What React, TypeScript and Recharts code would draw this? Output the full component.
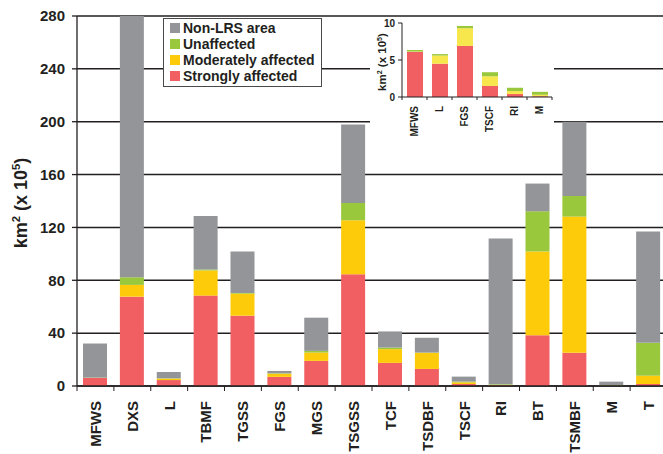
import { BarChart, Bar, XAxis, YAxis, CartesianGrid, Legend, Label } from 'recharts';

const categories = ['MFWS', 'DXS', 'L', 'TBMF', 'TGSS', 'FGS', 'MGS', 'TSGSS', 'TCF', 'TSDBF', 'TSCF', 'RI', 'BT', 'TSMBF', 'M', 'T'];
const strongly = [6.1, 67.6, 4.5, 68.4, 53.2, 6.9, 19.0, 84.6, 17.5, 12.9, 1.5, 0.4, 38.5, 25.1, 0.1, 1.5];
const moderately = [0.05, 8.9, 1.1, 19.0, 16.7, 2.4, 6.3, 40.8, 10.4, 12.2, 1.3, 0.4, 63.3, 103.1, 0.2, 6.3];
const unaffected = [0.2, 5.8, 0.2, 0.8, 0.5, 0.3, 1.3, 13.1, 1.2, 0.2, 0.55, 0.45, 30.4, 15.6, 0.4, 24.9];
const nonLrs = [25.8, 215, 4.8, 40.4, 31.4, 1.8, 25.1, 59.3, 12.2, 11.2, 3.75, 110.4, 21, 56.2, 2.6, 84.3];
const yTicks = [0, 40, 80, 120, 160, 200, 240, 280];

// small categories shown again in the inset
const insetCategories = ['MFWS', 'L', 'FGS', 'TSCF', 'RI', 'M'];
const insetTicks = [0, 5, 10];

const FONT = '"Liberation Sans", Arial, Helvetica, sans-serif';
const INK = '#231f20';
const GRAY = '#939598';
const GREEN = '#9ac83c';
const YELLOW = '#fecb0a';
const INSET_YELLOW = '#f7e64c';
const RED = '#f15f62';

const data = categories.map((name, i) => ({
  name,
  strongly: strongly[i],
  moderately: moderately[i],
  unaffected: unaffected[i],
  nonLrs: nonLrs[i],
}));

const insetData = insetCategories.map(name => {
  const i = categories.indexOf(name);
  return { name, strongly: strongly[i], moderately: moderately[i], unaffected: unaffected[i] };
});

const CHART_W = 670;
const CHART_H = 454;
const Y_W = 77;
const MAIN_PLOT_W = CHART_W - Y_W - 3;

function makeXTick(fontSize: number, margin: number, tick: number, bandHalf: number, count: number) {
  return (props: any) => {
    const { x, y, payload, index } = props;
    const half = payload && payload.offset ? payload.offset : bandHalf;
    const axisY = y - margin;
    return (
      <g>
        <line x1={x - half} x2={x - half} y1={axisY} y2={axisY + tick} stroke={INK} strokeWidth={1} />
        {index === count - 1 && (
          <line x1={x + half} x2={x + half} y1={axisY} y2={axisY + tick} stroke={INK} strokeWidth={1} />
        )}
        <text
          x={x}
          y={y}
          dy="0.36em"
          transform={`rotate(-90, ${x}, ${y})`}
          textAnchor="end"
          fontSize={fontSize}
          fontWeight="bold"
          fontFamily={FONT}
          fill={INK}
        >
          {payload.value}
        </text>
      </g>
    );
  };
}

const MainXTick = makeXTick(15, 15, 5, MAIN_PLOT_W / categories.length / 2, categories.length);
const InsetXTick = makeXTick(10, 9, 3, 150 / insetCategories.length / 2, insetCategories.length);

function yLabel(fontSize: number, dx: number, sup: number) {
  return (props: any) => {
    const vb = props.viewBox || { x: 0, y: 0, width: 0, height: 0 };
    const x = vb.x + dx;
    const y = vb.y + vb.height / 2 + 2;
    return (
      <text
        x={x}
        y={y}
        transform={`rotate(-90, ${x}, ${y})`}
        textAnchor="middle"
        fontSize={fontSize}
        fontWeight="bold"
        fontFamily={FONT}
        fill={INK}
      >
        <tspan>km</tspan>
        <tspan dy={-sup} fontSize={fontSize * 0.62}>2</tspan>
        <tspan dy={sup}> (x 10</tspan>
        <tspan dy={-sup} fontSize={fontSize * 0.62}>5</tspan>
        <tspan dy={sup}>)</tspan>
      </text>
    );
  };
}

const legendItems = [
  { label: 'Non-LRS area', color: GRAY },
  { label: 'Unaffected', color: GREEN },
  { label: 'Moderately affected', color: YELLOW },
  { label: 'Strongly affected', color: RED },
];

function LegendBox() {
  return (
    <div
      style={{
        border: '1px solid #4a4a4a',
        background: '#fff',
        padding: '1px 6px 2px 6px',
        fontFamily: FONT,
        fontWeight: 'bold',
        fontSize: 14,
        color: INK,
        lineHeight: '16px',
        boxSizing: 'border-box',
      }}
    >
      {legendItems.map(item => (
        <div key={item.label} style={{ display: 'flex', alignItems: 'center', whiteSpace: 'nowrap' }}>
          <span style={{ width: 10, height: 10, background: item.color, marginRight: 3, display: 'inline-block' }} />
          {item.label}
        </div>
      ))}
    </div>
  );
}

function Inset() {
  return (
    <div style={{ position: 'absolute', left: 370, top: 18, width: 184, height: 118, background: '#fff' }}>
      <BarChart width={184} height={118} data={insetData} margin={{ top: 5, right: 2, left: 0, bottom: 0 }} barSize={16}>
        <XAxis
          dataKey="name"
          interval={0}
          height={39}
          tickLine={false}
          tickSize={0}
          tickMargin={9}
          axisLine={{ stroke: INK, strokeWidth: 1 }}
          tick={InsetXTick}
        />
        <YAxis
          width={32}
          domain={[0, 10]}
          ticks={insetTicks}
          interval={0}
          tickSize={4}
          tickMargin={3}
          axisLine={{ stroke: INK, strokeWidth: 1 }}
          tickLine={{ stroke: INK, strokeWidth: 1 }}
          tick={{ fontSize: 10, fontWeight: 'bold', fill: INK, fontFamily: FONT }}
          label={{ content: yLabel(11.5, 16, 4) }}
        />
        <Bar dataKey="strongly" stackId="a" fill={RED} isAnimationActive={false} />
        <Bar dataKey="moderately" stackId="a" fill={INSET_YELLOW} isAnimationActive={false} />
        <Bar dataKey="unaffected" stackId="a" fill={GREEN} isAnimationActive={false} />
      </BarChart>
    </div>
  );
}

export default function App() {
  return (
    <div style={{ position: 'fixed', left: 0, top: 0, width: 663, height: 454, overflow: 'hidden', background: '#fff' }}>
      <BarChart width={CHART_W} height={CHART_H} data={data} margin={{ top: 16, right: 3, left: 0, bottom: 0 }} barSize={24}>
        <CartesianGrid horizontal vertical={false} stroke={INK} strokeWidth={1.5} />
        <XAxis
          dataKey="name"
          interval={0}
          height={68}
          tickLine={false}
          tickSize={0}
          tickMargin={15}
          axisLine={{ stroke: INK, strokeWidth: 1.5 }}
          tick={MainXTick}
        />
        <YAxis
          width={Y_W}
          domain={[0, 280]}
          allowDataOverflow
          ticks={yTicks}
          interval={0}
          tickSize={5}
          tickMargin={7}
          axisLine={{ stroke: INK, strokeWidth: 1.3 }}
          tickLine={{ stroke: INK, strokeWidth: 1.3 }}
          tick={{ fontSize: 15, fontWeight: 'bold', fill: INK, fontFamily: FONT }}
        >
          <Label content={yLabel(18, 27, 7)} />
        </YAxis>
        <Legend
          layout="vertical"
          align="center"
          verticalAlign="middle"
          content={() => <LegendBox />}
          wrapperStyle={{ position: 'absolute', left: 163, top: 18, width: 159, height: 'auto' }}
        />
        <Bar dataKey="strongly" name="Strongly affected" stackId="a" fill={RED} isAnimationActive={false} />
        <Bar dataKey="moderately" name="Moderately affected" stackId="a" fill={YELLOW} isAnimationActive={false} />
        <Bar dataKey="unaffected" name="Unaffected" stackId="a" fill={GREEN} isAnimationActive={false} />
        <Bar dataKey="nonLrs" name="Non-LRS area" stackId="a" fill={GRAY} isAnimationActive={false} />
      </BarChart>
      <Inset />
    </div>
  );
}
